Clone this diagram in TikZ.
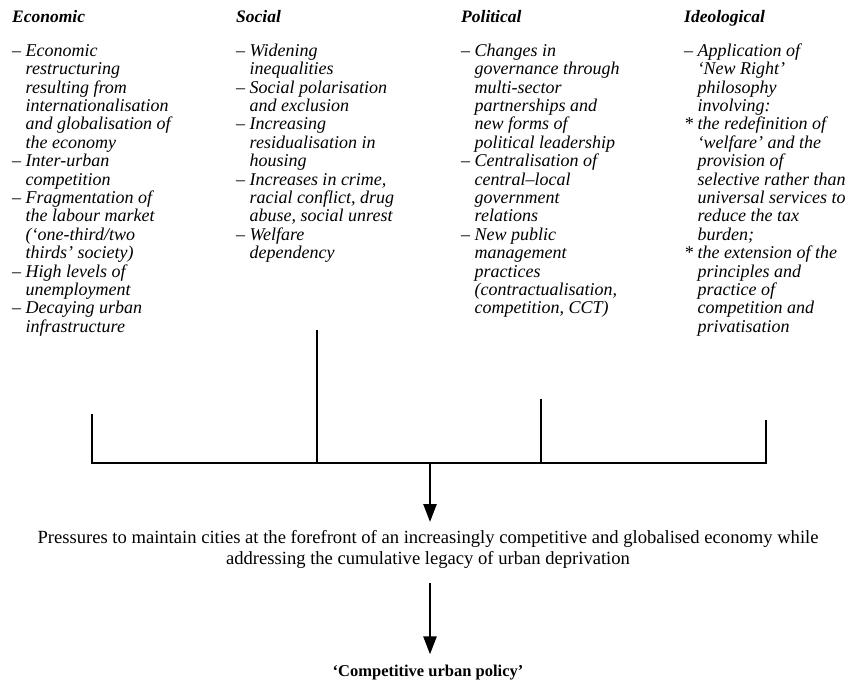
\documentclass[tikz,border=0pt]{standalone}
\usepackage{fontspec}
\setmainfont{Liberation Serif}
\usetikzlibrary{arrows.meta}
\newcommand{\itm}{\makebox[13.5pt][l]{--}}
\newcommand{\cnt}{\hspace*{13.5pt}}
\newcommand{\stm}{\makebox[13.5pt][l]{*}}
\newcommand{\topstrut}{\rule{0pt}{14pt}}
\begin{document}
\begin{tikzpicture}[x=1pt,y=-1pt,
  col/.style={anchor=north west, inner sep=0pt, align=left, font=\fontsize{18}{18.4}\selectfont\itshape},
  head/.style={anchor=base west, inner sep=0pt, font=\fontsize{17.5}{18}\selectfont\bfseries\itshape},
  bar/.style={line width=2.8pt},
  arr/.style={line width=2.6pt, -{Triangle[width=13pt,length=18pt]}}
]
\useasboundingbox (0,0) rectangle (850,690);

% headings
\node[head] (he) at (12,23) {Economic};
\node[head] (hs) at (236,23) {Social};
\node[head] (hp) at (461,23) {Political};
\node[head] (hi) at (684,23) {Ideological};

% columns
\node[col] (ce) at (12,42) {\topstrut\itm Economic\\
\cnt restructuring\\
\cnt resulting from\\
\cnt internationalisation\\
\cnt and globalisation of\\
\cnt the economy\\
\itm Inter-urban\\
\cnt competition\\
\itm Fragmentation of\\
\cnt the labour market\\
\cnt (`one-third/two\\
\cnt thirds' society)\\
\itm High levels of\\
\cnt unemployment\\
\itm Decaying urban\\
\cnt infrastructure};

\node[col] (cs) at (236,42) {\topstrut\itm Widening\\
\cnt inequalities\\
\itm Social polarisation\\
\cnt and exclusion\\
\itm Increasing\\
\cnt residualisation in\\
\cnt housing\\
\itm Increases in crime,\\
\cnt racial conflict, drug\\
\cnt abuse, social unrest\\
\itm Welfare\\
\cnt dependency};

\node[col] (cp) at (461,42) {\topstrut\itm Changes in\\
\cnt governance through\\
\cnt multi-sector\\
\cnt partnerships and\\
\cnt new forms of\\
\cnt political leadership\\
\itm Centralisation of\\
\cnt central--local\\
\cnt government\\
\cnt relations\\
\itm New public\\
\cnt management\\
\cnt practices\\
\cnt (contractualisation,\\
\cnt competition, CCT)};

\node[col] (ci) at (684,42) {\topstrut\itm Application of\\
\cnt `New Right'\\
\cnt philosophy\\
\cnt involving:\\
\stm the redefinition of\\
\cnt `welfare' and the\\
\cnt provision of\\
\cnt selective rather than\\
\cnt universal services to\\
\cnt reduce the tax\\
\cnt burden;\\
\stm the extension of the\\
\cnt principles and\\
\cnt practice of\\
\cnt competition and\\
\cnt privatisation};

% bars
\coordinate (etop) at (92,414);  \coordinate (ej) at (92,463);
\coordinate (stop) at (317,330); \coordinate (sj) at (317,463);
\coordinate (ptop) at (541,399); \coordinate (pj) at (541,463);
\coordinate (itop) at (766,420); \coordinate (ij) at (766,463);
\coordinate (mj) at (430,463);

\draw[bar] (etop) -- (ej) -- (ij) -- (itop);
\draw[bar] (stop) -- (sj);
\draw[bar] (ptop) -- (pj);

% bottom
\node[anchor=north, align=center, inner sep=0pt, font=\fontsize{18.6}{21.5}\selectfont] (press) at (428,529)
  {\rule{0pt}{14pt}Pressures to maintain cities at the forefront of an increasingly competitive and globalised economy while\\
   addressing the cumulative legacy of urban deprivation};
\node[anchor=base, inner sep=0pt, font=\fontsize{16.5}{18}\selectfont\bfseries] (final) at (428,676)
  {`Competitive urban policy'};

\draw[arr, shorten >=7pt] (mj) -- (mj |- press.north);
\draw[arr, shorten <=14pt, shorten >=10pt] (mj |- press.south) -- (mj |- final.north);
\end{tikzpicture}
\end{document}
